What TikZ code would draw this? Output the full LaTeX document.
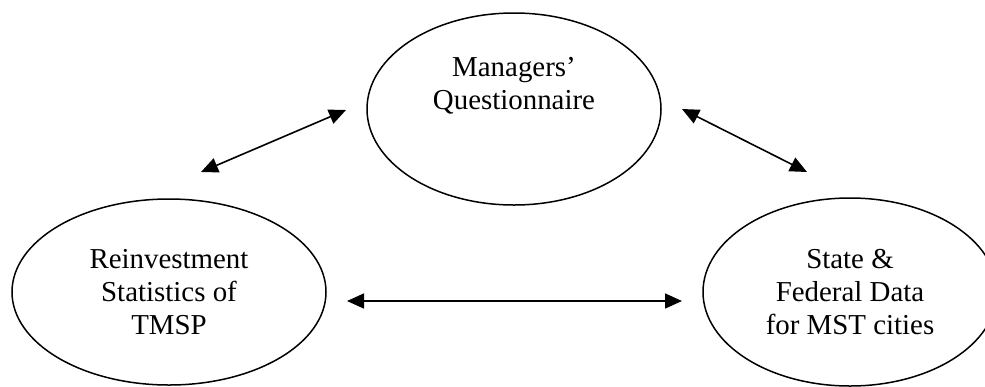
\documentclass[tikz,border=0pt]{standalone}
\usepackage{fontspec}
\setmainfont{Liberation Serif}
\usetikzlibrary{arrows.meta,shapes.geometric}
\begin{document}
\begin{tikzpicture}[x=1bp,y=-1bp,
  oval/.style={ellipse,draw,line width=1.5bp,inner sep=0pt,align=center,
    font=\fontsize{29}{33}\selectfont},
  link/.style={{Triangle[length=17bp,width=15bp]}-{Triangle[length=17bp,width=15bp]},line width=1.6bp}]
\useasboundingbox (0,0) rectangle (985,386);
\node[oval,minimum width=294bp,minimum height=192bp,text depth=51bp] (mq) at (514,109) {Managers’\\Questionnaire};
\node[oval,minimum width=314bp,minimum height=186bp] (rs) at (169,292) {Reinvestment\\Statistics of\\TMSP};
\node[oval,minimum width=294bp,minimum height=188bp] (sf) at (850,292) {State \&\\Federal Data\\for MST cities};
\coordinate (a1s) at (201,172);
\coordinate (a1e) at (346,110);
\coordinate (a2s) at (682,109);
\coordinate (a2e) at (807,172);
\coordinate (a3s) at (347,301);
\coordinate (a3e) at (682,301);
\draw[link] (a1s) -- (a1e);
\draw[link] (a2s) -- (a2e);
\draw[link] (a3s) -- (a3e);
\end{tikzpicture}
\end{document}
